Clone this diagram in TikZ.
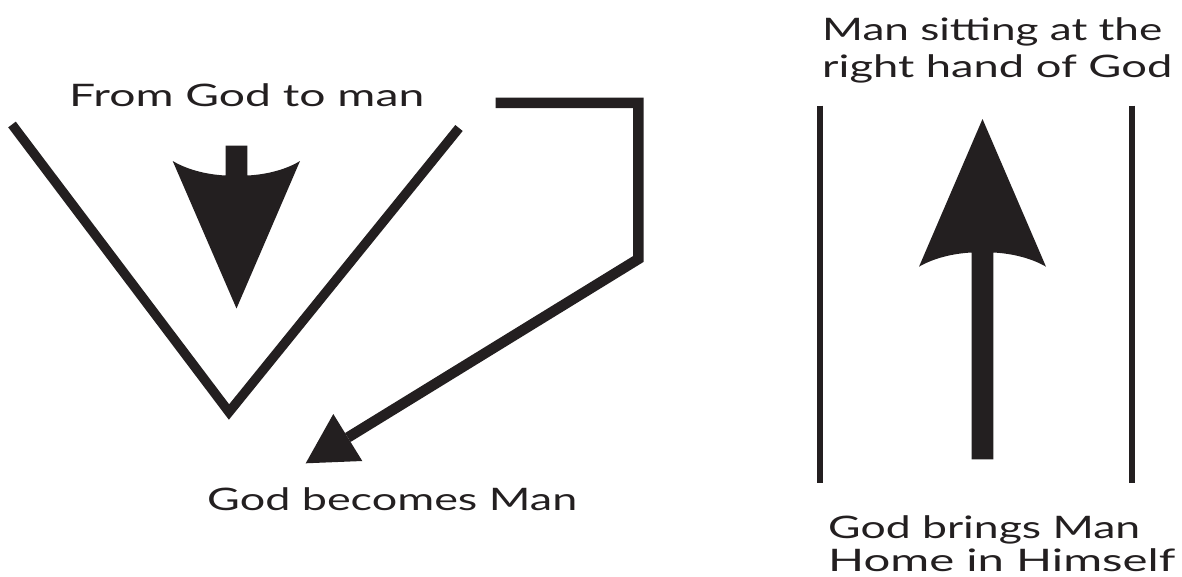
\documentclass[tikz,border=0pt]{standalone}
\usepackage{fontspec}
\usepackage{graphicx}
\setmainfont{Lato}
\definecolor{ink}{HTML}{231F20}
\newcommand{\fitw}[2]{\resizebox{#1}{\height}{#2}}
\tikzset{
  lbl/.style={anchor=base west, inner sep=0pt, text=ink, font=\fontsize{31}{36}\selectfont},
  vline/.style={draw=ink, line width=9.5pt, line join=miter, line cap=butt},
  bracket/.style={draw=ink, line width=10.5pt, line join=miter, line cap=butt},
  pillar/.style={draw=ink, line width=6pt, line cap=butt},
  arrowfill/.style={fill=ink, draw=none}
}
\begin{document}
\begin{tikzpicture}[x=1pt,y=-1pt]
\useasboundingbox (0,0) rectangle (1182,576);

% texts
\node[lbl] (t1) at (69,106) {\fitw{355pt}{From God to man}};
\node[lbl] (t2) at (207,510) {\fitw{370pt}{God becomes Man}};
\node[lbl] (t3) at (822,40) {\fitw{340pt}{Man sitting at the}};
\node[lbl] (t4) at (822,77) {\fitw{350pt}{right hand of God}};
\node[lbl] (t5) at (828,538) {\fitw{312pt}{God brings Man}};
\node[lbl] (t6) at (828,571) {\fitw{347pt}{Home in Himself}};

% V shape
\coordinate (vl) at (12,124.5);
\coordinate (va) at (229,412);
\coordinate (vr) at (459,128);
\draw[vline] (vl) -- (va) -- (vr);

% down arrow
\fill[arrowfill] (225.7,145.7) -- (247.3,145.7) -- (247.3,175.5)
  .. controls (268,174.5) and (287,169) .. (300,161)
  -- (236.5,308.5) -- (172.7,161)
  .. controls (186,169) and (205,174.5) .. (225.7,175.5) -- cycle;

% bracket connector with arrow head
\coordinate (b0) at (495.7,102.8);
\coordinate (b1) at (638.3,102.8);
\coordinate (b2) at (638.3,259);
\coordinate (b3) at (347.8,437.5);
\draw[bracket] (b0) -- (b1) -- (b2) -- (b3);
\fill[arrowfill] (305.7,463.3) -- (333.3,414) -- (362.3,461) -- cycle;

% pillars
\coordinate (p1t) at (819.7,105.7);
\coordinate (p1b) at (819.7,483.3);
\coordinate (p2t) at (1132,105.7);
\coordinate (p2b) at (1132,483.3);
\draw[pillar] (p1t) -- (p1b);
\draw[pillar] (p2t) -- (p2b);

% up arrow
\fill[arrowfill] (971.7,459.3) -- (971.7,252.5)
  .. controls (952,253.5) and (933,258.5) .. (919,266.7)
  -- (982.5,119) -- (1046,266.7)
  .. controls (1032,258.5) and (1013,253.5) .. (993.3,252.5)
  -- (993.3,459.3) -- cycle;
\end{tikzpicture}
\end{document}
